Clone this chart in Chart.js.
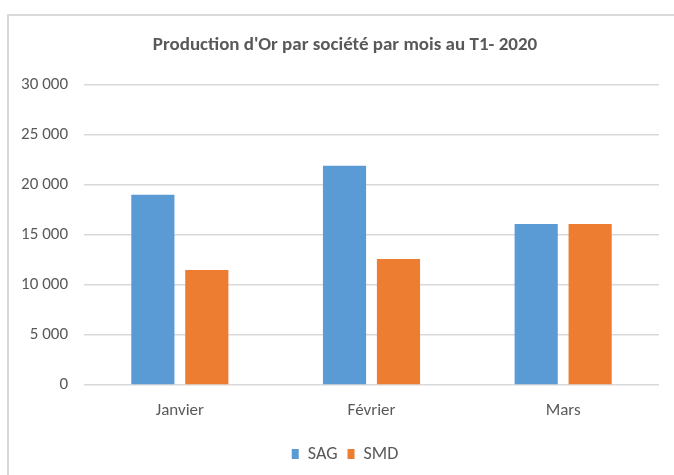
<!DOCTYPE html>
<html>
<head>
<meta charset="utf-8">
<script src="https://cdn.jsdelivr.net/npm/chart.js@4/dist/chart.umd.min.js"></script>
<style>
  html, body { margin: 0; padding: 0; background: #ffffff; }
  #wrap { position: relative; width: 674px; height: 475px; overflow: hidden; background: #fff; }
  #frame { position: absolute; left: 7px; top: 14px; width: 700px; height: 500px; border-left: 2px solid #d9d9d9; border-top: 2px solid #d9d9d9; box-sizing: border-box; }
  canvas { position: absolute; left: 0; top: 0; }
</style>
</head>
<body>
<div id="wrap">
  <div id="frame"></div>
  <canvas id="c" width="674" height="475"></canvas>
</div>
<script>
const titleText = "Production d'Or par société par mois au T1- 2020";
const categories = ["Janvier", "Février", "Mars"];
const seriesNames = ["SAG", "SMD"];
const sagValues = [19000, 21900, 16100];
const smdValues = [11500, 12600, 16100];
const yTicks = [0, 5000, 10000, 15000, 20000, 25000, 30000];

const FONT = "Carlito, Calibri, 'Liberation Sans Narrow', 'DejaVu Sans Condensed', 'Open Sans', sans-serif";
const grey = '#595959';

function fmt(v) {
  return String(v).replace(/\B(?=(\d{3})+(?!\d))/g, ' ');
}

new Chart(document.getElementById('c'), {
  type: 'bar',
  data: {
    labels: categories,
    datasets: [
      { label: seriesNames[0], data: sagValues, backgroundColor: '#5B9BD5', borderWidth: 0 },
      { label: seriesNames[1], data: smdValues, backgroundColor: '#ED7D31', borderWidth: 0 }
    ]
  },
  options: {
    responsive: false,
    animation: false,
    devicePixelRatio: 1,
    categoryPercentage: 0.563,
    barPercentage: 0.8,
    layout: { padding: { left: 31, right: 15, top: 15, bottom: 2 } },
    plugins: {
      title: {
        display: true,
        text: titleText,
        color: grey,
        font: { family: FONT, size: 19, weight: 'bold', lineHeight: 1.2 },
        padding: { top: 19, bottom: 28 }
      },
      legend: {
        position: 'bottom',
        labels: {
          color: grey,
          font: { family: FONT, size: 18 },
          boxWidth: 7,
          boxHeight: 10,
          padding: 10
        }
      },
      tooltip: { enabled: false }
    },
    scales: {
      x: {
        grid: { display: false, drawTicks: false },
        border: { display: false },
        ticks: { color: grey, font: { family: FONT, size: 17 }, padding: 16 },
        afterFit: (s) => { s.height = 50; }
      },
      y: {
        min: 0,
        max: 30000,
        afterBuildTicks: (s) => { s.ticks = yTicks.map(v => ({ value: v })); },
        grid: { color: '#d9d9d9', lineWidth: 1.5, drawTicks: false },
        border: { display: false },
        ticks: { color: grey, font: { family: FONT, size: 17 }, padding: 16, callback: (v) => fmt(v) },
        afterFit: (s) => {
          s.width = 53;
          s._computeLabelArea = () => undefined;
        }
      }
    }
  }
});
</script>
</body>
</html>
